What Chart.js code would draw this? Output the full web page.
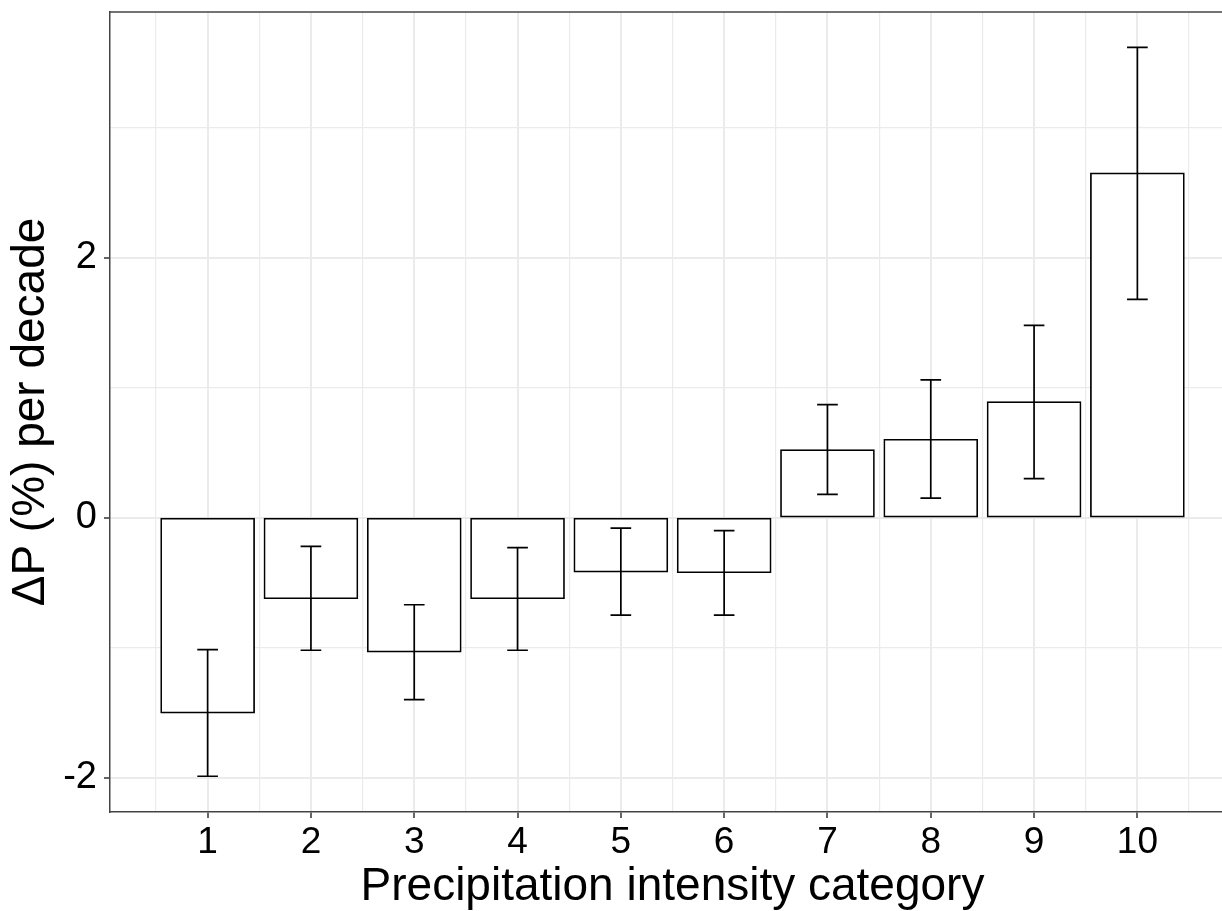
<!DOCTYPE html>
<html>
<head>
<meta charset="utf-8">
<script src="https://cdn.jsdelivr.net/npm/chart.js@4/dist/chart.umd.min.js"></script>
<style>
  html, body { margin: 0; background: #fff; overflow: hidden; }
  canvas { display: block; }
</style>
</head>
<body>
<!-- the panel runs a little past the right edge of the window, as in the original -->
<canvas id="chart" width="1235" height="911"></canvas>
<script>
// precipitation intensity categories and trend per decade
const categories = [1, 2, 3, 4, 5, 6, 7, 8, 9, 10];
const change = [-1.50, -0.62, -1.03, -0.62, -0.415, -0.42, 0.52, 0.60, 0.89, 2.65];
const lower = [-1.99, -1.02, -1.40, -1.02, -0.75, -0.75, 0.18, 0.15, 0.30, 1.68];
const upper = [-1.015, -0.22, -0.67, -0.23, -0.08, -0.10, 0.87, 1.06, 1.48, 3.62];

const xTicks = [0.5, 1, 1.5, 2, 2.5, 3, 3.5, 4, 4.5, 5, 5.5, 6, 6.5, 7, 7.5, 8, 8.5, 9, 9.5, 10, 10.5];
const yTicks = [-2, -1, 0, 1, 2, 3];
const yLabels = [-2, 0, 2];

const gridColor = '#EBEBEB';
const frameColor = '#444444';

const isMajorX = c => !!c.tick && Number.isInteger(c.tick.value);
const isMajorY = c => !!c.tick && yLabels.includes(c.tick.value);

// error bars drawn on top of the bars
const errorBars = {
  id: 'errorBars',
  afterDatasetsDraw(chart) {
    const { ctx, scales: { x, y } } = chart;
    ctx.save();
    ctx.strokeStyle = '#000';
    ctx.lineWidth = 1.7;
    categories.forEach((c, i) => {
      const px = x.getPixelForValue(c);
      const cap = x.getPixelForValue(c + 0.1) - px;
      const yl = y.getPixelForValue(lower[i]);
      const yu = y.getPixelForValue(upper[i]);
      ctx.beginPath();
      ctx.moveTo(px, yl); ctx.lineTo(px, yu);
      ctx.moveTo(px - cap, yl); ctx.lineTo(px + cap, yl);
      ctx.moveTo(px - cap, yu); ctx.lineTo(px + cap, yu);
      ctx.stroke();
    });
    ctx.restore();
  }
};

// top edge of the panel frame
const topBorder = {
  id: 'topBorder',
  afterDraw(chart) {
    const { ctx, chartArea } = chart;
    ctx.save();
    ctx.strokeStyle = frameColor;
    ctx.lineWidth = 1.5;
    ctx.beginPath();
    ctx.moveTo(chartArea.left, chartArea.top);
    ctx.lineTo(chartArea.right, chartArea.top);
    ctx.stroke();
    ctx.restore();
  }
};

new Chart(document.getElementById('chart').getContext('2d'), {
  type: 'bar',
  data: {
    datasets: [{
      data: categories.map((c, i) => ({ x: c, y: change[i] })),
      backgroundColor: '#ffffff',
      borderColor: '#000000',
      borderWidth: 1.7,
      borderSkipped: false,
      inflateAmount: 0.85,
      // the bar ruler also counts the half-step ticks, so 1.8 of half a step = 0.9 of a step
      barPercentage: 1.8,
      categoryPercentage: 1.0
    }]
  },
  options: {
    responsive: false,
    animation: false,
    devicePixelRatio: 1,
    layout: { padding: { top: 12, right: 0, left: 0, bottom: 0 } },
    plugins: {
      legend: { display: false },
      tooltip: { enabled: false }
    },
    scales: {
      x: {
        type: 'linear',
        offset: false,
        min: 0.055,
        max: 10.945,
        afterBuildTicks: s => { s.ticks = xTicks.map(v => ({ value: v })); },
        afterFit: s => { s.height = 99; s.paddingLeft = 0; s.paddingRight = 0; },
        ticks: {
          autoSkip: false,
          maxRotation: 0,
          padding: 3,
          color: '#000',
          font: { family: 'Liberation Sans', size: 37 },
          callback: v => Number.isInteger(v) ? String(v) : ''
        },
        grid: {
          offset: false,
          color: gridColor,
          lineWidth: c => isMajorX(c) ? 2 : 1.2,
          tickColor: c => isMajorX(c) ? '#333333' : 'rgba(0,0,0,0)',
          tickLength: 6,
          tickWidth: 1.5
        },
        border: { display: true, color: frameColor, width: 1.5 },
        title: {
          display: true,
          text: 'Precipitation intensity category',
          color: '#000',
          font: { family: 'Liberation Sans', size: 46 },
          padding: { top: 0, bottom: -4 }
        }
      },
      y: {
        min: -2.265,
        max: 3.892,
        afterBuildTicks: s => { s.ticks = yTicks.map(v => ({ value: v })); },
        afterFit: s => { s.width = 110; s.paddingTop = 0; s.paddingBottom = 0; },
        ticks: {
          padding: 7,
          color: '#000',
          font: { family: 'Liberation Sans', size: 38 },
          callback: v => yLabels.includes(v) ? String(v) : ''
        },
        grid: {
          color: gridColor,
          lineWidth: c => isMajorY(c) ? 2 : 1.2,
          tickColor: c => isMajorY(c) ? '#333333' : 'rgba(0,0,0,0)',
          tickLength: 6,
          tickWidth: 1.5
        },
        border: { display: true, color: frameColor, width: 1.5 },
        title: {
          display: true,
          text: 'ΔP (%) per decade',
          color: '#000',
          font: { family: 'Liberation Sans', size: 46 },
          padding: { top: 4, bottom: 0 }
        }
      }
    }
  },
  plugins: [errorBars, topBorder]
});
</script>
</body>
</html>
